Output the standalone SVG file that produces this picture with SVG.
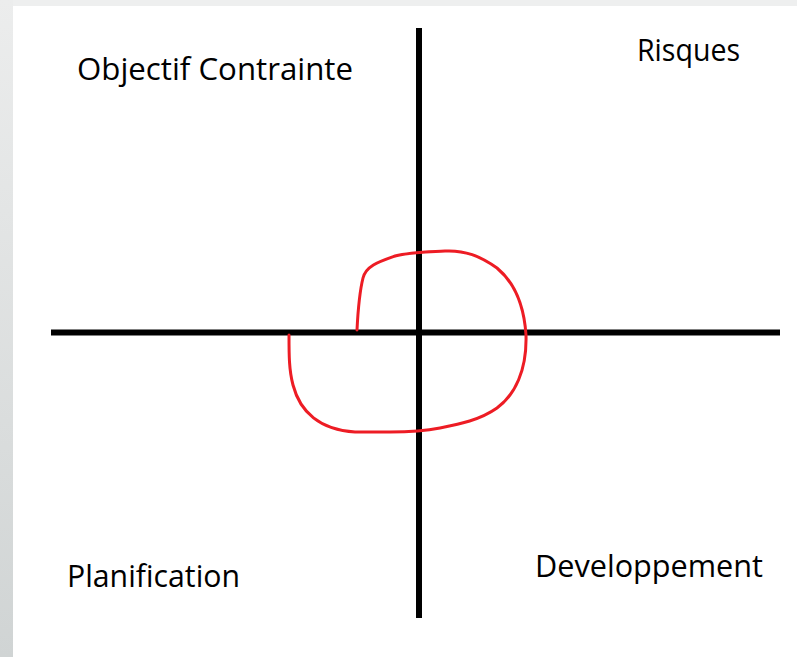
<svg xmlns="http://www.w3.org/2000/svg" width="797" height="657" viewBox="0 0 797 657">
  <defs>
    <linearGradient id="leftband" x1="0" y1="0" x2="0" y2="1">
      <stop offset="0" stop-color="#eceded"/>
      <stop offset="1" stop-color="#d0d4d4"/>
    </linearGradient>
    <style>
      .lbl { font-family: "Open Sans", "Noto Sans", "Liberation Sans", sans-serif; font-size: 31px; fill: #000; }
      .axis { stroke: #000; stroke-width: 6; fill: none; }
      .spiral { stroke: #ed1c24; stroke-width: 3; fill: none; stroke-linecap: round; stroke-linejoin: round; }
    </style>
  </defs>
  <rect x="0" y="0" width="797" height="657" fill="#ffffff"/>
  <rect x="0" y="0" width="797" height="6" fill="#eeefef"/>
  <rect x="0" y="0" width="13" height="657" fill="url(#leftband)"/>

  <g id="connectors">
    <line class="axis" x1="419" y1="28" x2="419" y2="618"/>
    <line class="axis" x1="51" y1="332.5" x2="780" y2="332.5"/>
    <path class="spiral" d="M357,330 C358,310 360,290 363,278 C366,266 378,262 395,256 C410,252 425,252 445,251 C465,250 480,256 497,268 C515,283 524,305 526,335 C527,370 515,395 497,408 C480,420 460,424 440,428 C425,431 410,432 390,432 L355,432 C320,430 300,412 293,385 C289,370 289,355 289,335"/>
  </g>

  <g id="node-objectif">
    <text class="lbl" x="77" y="80" textLength="276" lengthAdjust="spacingAndGlyphs">Objectif Contrainte</text>
  </g>
  <g id="node-risques">
    <text class="lbl" x="637" y="61" textLength="103" lengthAdjust="spacingAndGlyphs">Risques</text>
  </g>
  <g id="node-planification">
    <text class="lbl" x="67" y="587" textLength="173" lengthAdjust="spacingAndGlyphs">Planification</text>
  </g>
  <g id="node-developpement">
    <text class="lbl" x="535" y="577" textLength="228" lengthAdjust="spacingAndGlyphs">Developpement</text>
  </g>
</svg>
